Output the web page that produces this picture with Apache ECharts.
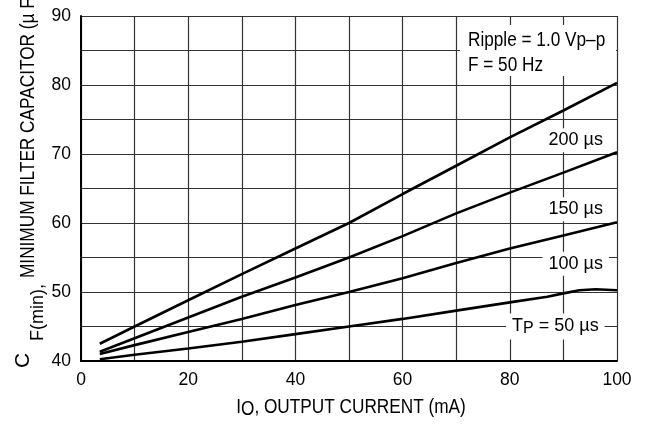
<!DOCTYPE html>
<html><head><meta charset="utf-8">
<script src="https://cdn.jsdelivr.net/npm/echarts@6/dist/echarts.min.js"></script>
<style>html,body{margin:0;padding:0;background:#fff;}#c{width:648px;height:424px;}</style>
</head><body><div id="c"></div>
<script>
// Output current (mA) sample points
const currentMain = [3.5, 10, 20, 30, 40, 50, 60, 70, 80, 90, 100];
const current50 = [3.5, 10, 20, 30, 40, 50, 60, 70, 80, 87, 90, 93, 96, 100];
// Minimum filter capacitor (uF) per pulse width Tp
const cap200 = [42.5, 45.0, 48.8, 52.6, 56.3, 60.0, 64.2, 68.3, 72.4, 76.3, 80.3];
const cap150 = [41.35, 43.3, 46.3, 49.3, 52.1, 55.0, 58.1, 61.4, 64.4, 67.3, 70.25];
const cap100 = [41.0, 42.3, 44.2, 46.1, 48.1, 50.0, 52.0, 54.2, 56.3, 58.2, 60.1];
const cap50 = [40.25, 40.9, 41.8, 42.8, 43.9, 45.0, 46.1, 47.3, 48.5, 49.3, 49.8, 50.25, 50.4, 50.25];
// axis ticks and texts
const xTicks = [0, 20, 40, 60, 80, 100];
const yTicks = [40, 50, 60, 70, 80, 90];
const curveLabels = ['200 µs', '150 µs', '100 µs', '{a|T}{b|P}{a| = 50 µs}'];
const noteLines = ['Ripple = 1.0 Vp–p', 'F = 50 Hz'];

const FONT = '"Liberation Sans", Arial, sans-serif';
const pairs = (xs, ys) => xs.map((x, i) => [x, ys[i]]);

function labelPoint(text, coord, rich) {
  return {
    symbol: 'rect', symbolSize: 0, silent: true, animation: false,
    data: [{ coord: coord, value: 0 }],
    label: {
      show: true, position: 'inside', formatter: text,
      color: '#000', fontSize: 18, fontFamily: FONT,
      backgroundColor: '#fff', padding: [3, 6], rich: rich
    }
  };
}

function lineSeries(data, mp) {
  return {
    type: 'line', data: data, symbol: 'none', smooth: false, animation: false,
    lineStyle: { color: '#000', width: 2.6 }, markPoint: mp
  };
}

function txt(text, x, y, size, opts) {
  return Object.assign({
    type: 'text', z: 51, silent: true, x: x, y: y,
    style: { text: text, fontSize: size, fontFamily: FONT, fill: '#000',
      align: 'left', verticalAlign: 'middle', textAlign: 'left', textVerticalAlign: 'middle' }
  }, opts || {});
}

const chart = echarts.init(document.getElementById('c'), null, { renderer: 'canvas' });
chart.setOption({
  backgroundColor: '#fff',
  animation: false,
  grid: { left: 81, right: 31, top: 16, bottom: 63 },
  xAxis: {
    type: 'value', min: 0, max: 100, interval: 10,
    axisLine: { show: true, lineStyle: { color: '#000', width: 2 } },
    axisTick: { show: false },
    splitLine: { show: true, lineStyle: { color: '#333', width: 1.2 } },
    axisLabel: {
      margin: 10, color: '#000', fontSize: 17.5, fontFamily: FONT,
      formatter: v => xTicks.includes(v) ? String(v) : ''
    }
  },
  yAxis: {
    type: 'value', min: 40, max: 90, interval: 5,
    axisLine: { show: true, lineStyle: { color: '#000', width: 2 } },
    axisTick: { show: false },
    splitLine: { show: true, lineStyle: { color: '#333', width: 1.2 } },
    axisLabel: {
      margin: 10, color: '#000', fontSize: 17.5, fontFamily: FONT,
      formatter: v => yTicks.includes(v) ? String(v) : ''
    }
  },
  series: [
    lineSeries(pairs(currentMain, cap200), labelPoint(curveLabels[0], [92.3, 72.0])),
    lineSeries(pairs(currentMain, cap150), labelPoint(curveLabels[1], [92.3, 62.0])),
    lineSeries(pairs(currentMain, cap100), labelPoint(curveLabels[2], [92.3, 54.1])),
    lineSeries(pairs(current50, cap50), labelPoint(curveLabels[3], [88.5, 45.0], {
      a: { fontSize: 18, fontFamily: FONT, color: '#000', lineHeight: 20, verticalAlign: 'middle' },
      b: { fontSize: 16, fontFamily: FONT, color: '#000', lineHeight: 10, verticalAlign: 'bottom' }
    }))
  ],
  graphic: [
    { type: 'rect', z: 50, silent: true, shape: { x: 460, y: 25, width: 156, height: 51 }, style: { fill: '#fff' } },
    txt(noteLines[0], 468, 40, 20, { scaleX: 0.86 }),
    txt(noteLines[1], 468, 65, 20, { scaleX: 0.86 }),
    // x axis title with subscript O
    { type: 'text', z: 51, silent: true, x: 351, y: 407.5, scaleX: 0.82,
      style: {
        text: '{a|I}{b|O}{a|, OUTPUT CURRENT (mA)}',
        align: 'center', verticalAlign: 'middle', textAlign: 'center', textVerticalAlign: 'middle',
        rich: {
          a: { fontSize: 21, fontFamily: FONT, fill: '#000', lineHeight: 24, verticalAlign: 'middle' },
          b: { fontSize: 21, fontFamily: FONT, fill: '#000', lineHeight: 10, verticalAlign: 'bottom' }
        }
      } },
    // y axis title: C, subscript F(min), then main text
    txt('C', 23, 368, 21, { rotation: Math.PI / 2 }),
    txt('F(min),', 38, 341, 18, { rotation: Math.PI / 2 }),
    txt('MINIMUM FILTER CAPACITOR (µ F)', 28.5, 278, 21, { rotation: Math.PI / 2, scaleX: 0.82 })
  ]
});
</script></body></html>
